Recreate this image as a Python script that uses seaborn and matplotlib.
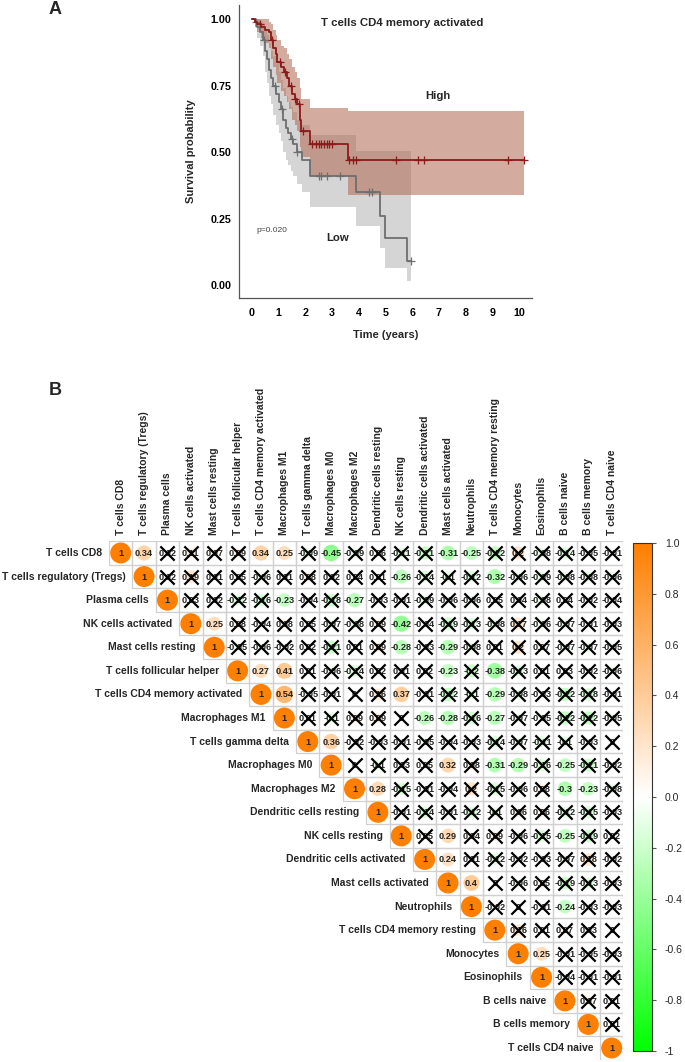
import numpy as np
import pandas as pd
import matplotlib
matplotlib.use('Agg')
import matplotlib.pyplot as plt
import seaborn as sns
from matplotlib.colors import LinearSegmentedColormap, ListedColormap, Normalize
from matplotlib.cm import ScalarMappable
from matplotlib.patches import Rectangle

# ---------------- Panel A data (Kaplan-Meier) ----------------
high_time = [0, 0.1, 0.2, 0.35, 0.5, 0.62, 0.7, 0.8, 0.88, 0.95, 1.1, 1.2, 1.3, 1.4, 1.5,
             1.6, 1.7, 1.78, 1.85, 2.17, 3.58, 10.2]
high_surv = [1.0, 0.99, 0.98, 0.97, 0.96, 0.95, 0.92, 0.89, 0.87, 0.84, 0.82, 0.80, 0.78, 0.75,
             0.72, 0.70, 0.68, 0.62, 0.58, 0.53, 0.47, 0.47]
high_upper = [1.0, 1.0, 1.0, 1.0, 1.0, 0.99, 0.98, 0.96, 0.94, 0.92, 0.90, 0.89, 0.87, 0.85,
              0.82, 0.80, 0.78, 0.74, 0.70, 0.665, 0.655, 0.655]
high_lower = [1.0, 0.97, 0.95, 0.93, 0.91, 0.89, 0.85, 0.82, 0.79, 0.76, 0.73, 0.71, 0.69, 0.66,
              0.62, 0.60, 0.58, 0.52, 0.48, 0.41, 0.34, 0.34]
high_censor = [0.3, 0.75, 1.05, 1.25, 1.45, 1.62, 1.75, 1.9, 2.25, 2.4, 2.5, 2.6, 2.7, 2.8,
               2.9, 3.0, 3.65, 3.8, 3.9, 5.4, 6.2, 6.45, 9.6, 10.2]

low_time = [0, 0.1, 0.2, 0.3, 0.4, 0.5, 0.55, 0.62, 0.7, 0.8, 0.9, 1.0, 1.08, 1.17, 1.27, 1.36,
            1.45, 1.55, 1.67, 1.86, 2.17, 3.88, 4.79, 4.97, 5.79, 5.95]
low_surv = [1.0, 0.99, 0.97, 0.95, 0.92, 0.88, 0.85, 0.81, 0.78, 0.75, 0.72, 0.69, 0.66, 0.62,
            0.59, 0.57, 0.55, 0.53, 0.50, 0.47, 0.41, 0.35, 0.26, 0.175, 0.09, 0.09]
low_upper = [1.0, 1.0, 1.0, 0.99, 0.98, 0.96, 0.94, 0.91, 0.88, 0.86, 0.83, 0.80, 0.77, 0.74,
             0.71, 0.69, 0.67, 0.65, 0.62, 0.60, 0.565, 0.505, 0.505, 0.505, 0.505, 0.505]
low_lower = [1.0, 0.97, 0.93, 0.90, 0.86, 0.80, 0.76, 0.71, 0.68, 0.64, 0.60, 0.57, 0.54, 0.50,
             0.47, 0.45, 0.43, 0.41, 0.38, 0.35, 0.295, 0.223, 0.14, 0.063, 0.015, 0.015]
low_censor = [0.15, 0.45, 0.85, 1.12, 1.5, 1.7, 2.5, 2.6, 2.8, 3.3, 4.4, 4.5, 5.95]

# ---------------- Panel B data (correlation matrix, upper triangle) ----------------
cell_types = ['T cells CD8', 'T cells regulatory (Tregs)', 'Plasma cells', 'NK cells activated',
              'Mast cells resting', 'T cells follicular helper', 'T cells CD4 memory activated',
              'Macrophages M1', 'T cells gamma delta', 'Macrophages M0', 'Macrophages M2',
              'Dendritic cells resting', 'NK cells resting', 'Dendritic cells activated',
              'Mast cells activated', 'Neutrophils', 'T cells CD4 memory resting', 'Monocytes',
              'Eosinophils', 'B cells naive', 'B cells memory', 'T cells CD4 naive']

# each row lists the values right of the diagonal
corr_rows = [
    [0.34, 0.02, 0.11, 0.07, 0.09, 0.34, 0.25, -0.09, -0.45, -0.09, 0.06, -0.11, -0.21, -0.31, -0.25, -0.22, 0.2, -0.08, -0.14, -0.05, -0.01],
    [0.02, 0.19, 0.01, 0.05, -0.06, 0.01, 0.08, 0.02, 0.04, 0.01, -0.26, -0.14, -0.1, -0.12, -0.32, -0.06, -0.09, -0.08, -0.08, -0.06],
    [0.03, 0.02, -0.12, -0.16, -0.23, -0.04, -0.18, -0.27, -0.03, -0.01, -0.09, -0.06, -0.06, 0.05, 0.04, -0.08, 0.04, -0.02, -0.04],
    [0.25, 0.08, -0.04, 0.08, 0.05, -0.07, -0.08, 0.09, -0.42, -0.04, -0.19, -0.13, -0.08, 0.17, -0.06, -0.07, -0.01, -0.03],
    [-0.05, -0.06, -0.02, 0.02, -0.21, 0.01, 0.09, -0.28, -0.03, -0.29, -0.08, 0.01, 0.2, 0.07, -0.07, -0.07, -0.05],
    [0.27, 0.41, 0.01, -0.06, -0.14, 0.02, 0.01, 0.02, -0.23, -0.2, -0.38, -0.13, 0.01, 0.03, -0.02, -0.06],
    [0.54, -0.05, -0.01, 0, 0.16, 0.37, -0.01, -0.22, -0.1, -0.29, -0.08, -0.03, -0.22, -0.18, -0.01],
    [0.01, -0.1, 0.09, 0.09, 0, -0.26, -0.28, -0.16, -0.27, -0.07, -0.05, -0.22, -0.22, -0.05],
    [0.36, -0.02, -0.03, -0.01, -0.05, -0.04, -0.03, -0.14, -0.07, -0.11, -0.1, -0.03, 0],
    [0, -0.1, 0.03, 0.05, 0.32, 0.08, -0.31, -0.29, -0.16, -0.25, -0.21, -0.02],
    [0.28, -0.15, -0.01, -0.04, 0.2, -0.15, -0.06, 0.08, -0.3, -0.23, -0.08],
    [-0.01, -0.14, -0.01, -0.12, -0.1, 0.06, 0.06, -0.12, -0.15, -0.03],
    [0.05, 0.29, 0.04, 0.09, -0.06, -0.15, -0.25, -0.19, 0.02],
    [0.24, 0.01, -0.12, -0.02, -0.03, -0.07, 0.18, -0.02],
    [0.4, 0, -0.06, 0.05, -0.19, -0.13, -0.03],
    [-0.02, 0, -0.01, -0.24, -0.03, -0.03],
    [0.16, 0.01, 0.07, 0.03, 0],
    [0.25, -0.01, -0.05, -0.03],
    [-0.04, -0.01, -0.01],
    [0.07, 0.01],
    [0.01],
]
sig_cutoff = 0.225  # cells below this |r| are crossed out (p >= 0.05)

cbar_ticks = [-1, -0.8, -0.6, -0.4, -0.2, 0.0, 0.2, 0.4, 0.6, 0.8, 1.0]
cbar_labels = ['-1', '-0.8', '-0.6', '-0.4', '-0.2', '0.0', '0.2', '0.4', '0.6', '0.8', '1.0']

# ---------------- style ----------------
sns.set_style('white')
plt.rcParams['font.family'] = ['Liberation Sans', 'DejaVu Sans']

W, H = 685, 1062
fig = plt.figure(figsize=(W / 100, H / 100), dpi=100)

# ================= Panel A =================
axA = fig.add_axes([239 / W, 1 - 298 / H, 293 / W, 293 / H])

high_col = '#8B1A1A'
low_col = '#6E6E6E'

axA.fill_between(low_time, low_lower, low_upper, step='post', color='#B4B4B4', alpha=0.55, linewidth=0)
axA.fill_between(high_time, high_lower, high_upper, step='post', color='#B06650', alpha=0.55, linewidth=0)

df_high = pd.DataFrame({'time': high_time, 'surv': high_surv})
df_low = pd.DataFrame({'time': low_time, 'surv': low_surv})
sns.lineplot(data=df_low, x='time', y='surv', drawstyle='steps-post', color=low_col,
             linewidth=1.3, estimator=None, sort=False, ax=axA)
sns.lineplot(data=df_high, x='time', y='surv', drawstyle='steps-post', color=high_col,
             linewidth=1.3, estimator=None, sort=False, ax=axA)


def step_value(times, surv, t):
    idx = np.searchsorted(times, t, side='right') - 1
    return np.asarray(surv)[idx]


sns.scatterplot(x=low_censor, y=step_value(low_time, low_surv, low_censor), marker='+',
                s=28, color=low_col, linewidth=0.9, ax=axA)
sns.scatterplot(x=high_censor, y=step_value(high_time, high_surv, high_censor), marker='+',
                s=28, color=high_col, linewidth=0.9, ax=axA)

axA.set_xlim(-0.49, 10.49)
axA.set_ylim(-0.049, 1.053)
axA.set_xticks(range(0, 11))
axA.set_yticks([0, 0.25, 0.5, 0.75, 1.0])
axA.set_yticklabels(['0.00', '0.25', '0.50', '0.75', '1.00'])
for lab in axA.get_xticklabels() + axA.get_yticklabels():
    lab.set_fontweight('bold')
axA.tick_params(axis='both', labelsize=7.7, length=3, width=0.8, color='#555555',
                direction='out', labelcolor='black')
axA.tick_params(axis='x', pad=4.5)
axA.tick_params(axis='y', pad=2.5)
axA.set_xlabel('Time (years)', fontsize=8, fontweight='bold', labelpad=8)
axA.set_ylabel('Survival probability', fontsize=8, fontweight='bold', labelpad=10)
sns.despine(ax=axA)
for sp in ['left', 'bottom']:
    axA.spines[sp].set_color('#555555')
    axA.spines[sp].set_linewidth(0.9)

axA.text(2.6, 0.987, 'T cells CD4 memory activated', fontsize=8.2, fontweight='bold',
         ha='left', va='center')
axA.text(6.97, 0.709, 'High', fontsize=8.2, fontweight='bold', ha='center', va='center')
axA.text(3.2, 0.178, 'Low', fontsize=8.2, fontweight='bold', ha='center', va='center')
axA.text(0.74, 0.203, 'p=0.020', fontsize=6, color='#444444', ha='center', va='center')

fig.text(55 / W, 1 - 10 / H, 'A', fontsize=13, fontweight='bold', ha='center', va='center')
fig.text(55 / W, 1 - 390 / H, 'B', fontsize=13, fontweight='bold', ha='center', va='center')

# ================= Panel B =================
n = len(cell_types)
corr = np.eye(n)
for i, row in enumerate(corr_rows):
    for k, v in enumerate(row):
        j = i + 1 + k
        corr[i, j] = v
        corr[j, i] = v
corr_df = pd.DataFrame(corr, index=cell_types, columns=cell_types)
lower_mask = np.tril(np.ones((n, n), dtype=bool), k=-1)

axB = fig.add_axes([109 / W, 1 - 1059.8 / H, 514.4 / W, 518.6 / H])
sns.heatmap(corr_df, mask=lower_mask, cmap=ListedColormap(['white']), cbar=False,
            linewidths=0, xticklabels=False, yticklabels=False, ax=axB)
axB.set_xlim(0, n)
axB.set_ylim(n, 0)

# grey cell borders, upper triangle only
for i in range(n):
    for j in range(i, n):
        axB.add_patch(Rectangle((j, i), 1, 1, facecolor='none', edgecolor='#D0D0D0',
                                linewidth=0.9, zorder=2))

cmap = LinearSegmentedColormap.from_list('gwo', ['#00FF00', '#FFFFFF', '#FF7F00'])
norm = Normalize(-1, 1)

xs, ys, sizes, cols = [], [], [], []
cross_x, cross_y = [], []
for i in range(n):
    for j in range(i, n):
        r = corr[i, j]
        xs.append(j + 0.5)
        ys.append(i + 0.5)
        d_px = 21.0 * abs(r) ** 0.3
        sizes.append((d_px * 0.72) ** 2)
        cols.append(cmap(norm(r)))
        if abs(r) < sig_cutoff:
            cross_x.append(j + 0.5)
            cross_y.append(i + 0.5)
axB.scatter(xs, ys, s=sizes, c=cols, linewidths=0, zorder=3)

for i in range(n):
    for j in range(i, n):
        r = corr[i, j]
        txt = f'{r:.2f}'.rstrip('0').rstrip('.')
        if txt in ('', '-0'):
            txt = '0'
        axB.text(j + 0.5, i + 0.52, txt, fontsize=6.6, fontweight='bold', ha='center',
                 va='center', zorder=4)

axB.scatter(cross_x, cross_y, marker='x', s=105, color='black', linewidths=1.6, zorder=5)

for i, name in enumerate(cell_types):
    axB.text(i - 0.3, i + 0.5, name, fontsize=7.5, fontweight='bold', ha='right',
             va='center', clip_on=False)
    axB.text(i + 0.5, -0.25, name, fontsize=7.5, fontweight='bold', ha='left',
             va='center', rotation=90, rotation_mode='anchor', clip_on=False)

# colorbar
cax = fig.add_axes([633.3 / W, 1 - 1051 / H, 19 / W, 508 / H])
cb = fig.colorbar(ScalarMappable(norm=norm, cmap=cmap), cax=cax)
cb.set_ticks(cbar_ticks)
cb.set_ticklabels(cbar_labels)
cb.outline.set_linewidth(0.8)
cb.outline.set_edgecolor('#333333')
cax.tick_params(labelsize=7.5, length=3, width=0.8, color='#555555', pad=6)

fig.savefig('out.png', dpi=100)
